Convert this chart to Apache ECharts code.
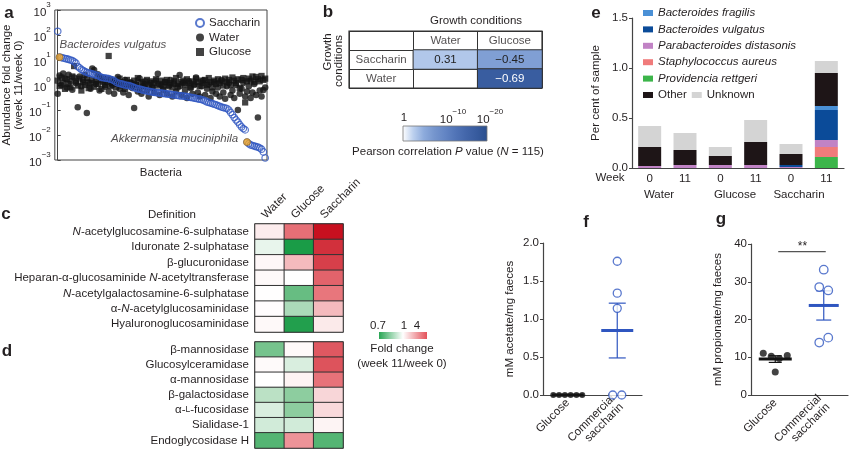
<!DOCTYPE html>
<html><head><meta charset="utf-8">
<script src="https://cdn.jsdelivr.net/npm/echarts@6/dist/echarts.min.js"></script>
<style>html,body{margin:0;padding:0;background:#fff}#c{width:850px;height:455px}</style>
</head><body><div id="c"></div>
<script>
// ---------------- DATA ----------------
// Panel a: abundance fold change (week 11 / week 0), bacteria ordered by saccharin response
const saccharin = [140, 13, 12.5, 12, 11.5, 11, 10.5, 10, 9.5, 8.5,
 7.5, 5.5, 4.8, 4.2, 3.8, 3.4, 3.2, 3.0, 2.9, 2.8,
 2.6, 2.5, 2.4, 2.2, 2.0, 1.95, 1.9, 1.85, 1.8, 1.7,
 1.6, 1.5, 1.3, 1.2, 1.15, 1.1, 1.05, 1.0, 0.97, 0.94,
 0.9, 0.85, 0.78, 0.74, 0.7, 0.68, 0.65, 0.62, 0.6, 0.58,
 0.56, 0.54, 0.52, 0.51, 0.5, 0.49, 0.48, 0.47, 0.46, 0.45,
 0.44, 0.43, 0.42, 0.41, 0.4, 0.39, 0.38, 0.37, 0.365, 0.36,
 0.35, 0.34, 0.33, 0.32, 0.31, 0.3, 0.29, 0.28, 0.27, 0.26,
 0.25, 0.23, 0.21, 0.2, 0.19, 0.18, 0.17, 0.16, 0.15, 0.14,
 0.13, 0.125, 0.12, 0.115, 0.1, 0.08, 0.065, 0.05, 0.04, 0.033,
 0.026, 0.021, 0.018, 0.016, 0.0052, 0.0045, 0.004, 0.0038, 0.0036, 0.0034,
 0.0033, 0.003, 0.0027, 0.0021, 0.0012];
const water = [0.45, 2.4, 1.0, 2.9, 1.8, 0.8, 2.6, 1.4, 0.65, 2.0,
 1.2, 0.13, 2.2, 0.9, 1.6, 2.5, 0.075, 1.3, 0.7, 4.6,
 4.0, 1.1, 2.7, 0.6, 1.5, 1.9, 0.85, 1.3, 0.55, 1.7,
 1.0, 0.45, 1.4, 2.1, 0.7, 1.2, 0.5, 1.6, 0.9, 0.4,
 1.3, 0.75, 0.12, 1.1, 0.55, 1.8, 0.45, 0.9, 1.4, 0.6,
 0.35, 1.2, 0.8, 0.5, 1.5, 2.8, 0.4, 1.0, 0.65, 1.3,
 0.45, 0.9, 1.6, 0.35, 1.1, 0.55, 0.8, 2.5, 0.4, 1.2,
 0.6, 0.3, 1.4, 0.75, 0.45, 1.0, 2.0, 0.5, 0.35, 0.9,
 1.5, 0.4, 0.7, 1.1, 0.3, 0.55, 1.3, 0.45, 0.8, 0.35,
 1.6, 0.5, 0.28, 0.9, 1.2, 0.4, 0.6, 0.3, 1.0, 0.1,
 0.45, 0.7, 1.2, 0.35, 0.55, 0.9, 0.3, 0.5, 1.1, 0.4,
 0.05, 0.6, 0.35, 0.63, 0.8];
const glucose = [1.5, 0.9, 2.0, 1.2, 0.7, 1.7, 1.1, 0.8, 2.2, 5.7,
 1.4, 0.95, 1.8, 0.6, 1.3, 1.0, 1.9, 0.75, 1.2, 1.6,
 0.85, 1.4, 1.1, 2.0, 0.7, 1.3, 1.0, 1.7, 14.5, 0.9,
 1.2, 1.5, 0.8, 1.1, 1.8, 0.95, 1.3, 0.7, 1.6, 1.0,
 1.2, 0.85, 1.5, 1.0, 1.9, 0.75, 1.3, 1.1, 0.9, 1.6,
 1.0, 1.4, 0.8, 1.2, 1.7, 0.95, 1.1, 1.5, 0.85, 1.3,
 1.6, 1.0, 1.2, 0.8, 1.4, 1.9, 1.1, 0.9, 1.3, 1.5,
 1.0, 1.7, 1.2, 0.85, 1.4, 1.1, 1.8, 1.3, 0.9, 1.5,
 1.2, 1.6, 1.0, 1.9, 1.3, 0.8, 1.5, 1.1, 1.7, 1.2,
 1.4, 0.95, 1.8, 1.3, 1.6, 1.0, 2.0, 1.5, 1.2, 1.7,
 0.75, 1.6, 1.9, 0.2, 1.4, 1.8, 1.5, 2.2, 1.3, 2.1,
 1.7, 1.4, 2.3, 1.6, 1.8];
const highlightIdx = [1, 104];
const highlightNames = ['Bacteroides vulgatus', 'Akkermansia muciniphila'];

// Panel b: Pearson correlations between growth conditions
const bColNames = ['Water', 'Glucose'];
const bRowNames = ['Saccharin', 'Water'];
const bCellRow = ['Saccharin', 'Saccharin', 'Water'];
const bCellCol = ['Water', 'Glucose', 'Glucose'];
const bR = [0.31, -0.45, -0.69];
const bNegLogP = [3.1, 6.4, 17];   // -log10(P), read from cell shading

// Panel e: per cent of sample
const eWeeks = ['0', '11', '0', '11', '0', '11'];
const eGroups = ['Water', 'Glucose', 'Saccharin'];
const eProvidencia = [0, 0, 0, 0, 0, 0.11];
const eStaph = [0, 0, 0, 0, 0, 0.10];
const eParabact = [0.02, 0.03, 0.03, 0.03, 0.01, 0.07];
const eBvulgatus = [0, 0, 0, 0, 0.02, 0.30];
const eBfragilis = [0, 0, 0, 0, 0, 0.04];
const eOther = [0.19, 0.15, 0.09, 0.23, 0.11, 0.33];
const eUnknown = [0.21, 0.17, 0.09, 0.22, 0.10, 0.12];

// Panels c, d: fold change (week 11/week 0), columns Water, Glucose, Saccharin
const cdConditions = ['Water', 'Glucose', 'Saccharin'];
const cRows = ['N-acetylglucosamine-6-sulphatase', 'Iduronate 2-sulphatase', 'β-glucuronidase',
  'Heparan-α-glucosaminide N-acetyltransferase', 'N-acetylgalactosamine-6-sulphatase',
  'α-N-acetylglucosaminidase', 'Hyaluronoglucosaminidase'];
const cFold = [[1.16, 3.1, 8], [0.97, 0.70, 5.8], [1.06, 1.7, 5.0], [1.05, 1.0, 3.5],
  [1.01, 0.80, 2.9], [1.02, 0.89, 1.7], [1.05, 0.71, 1.18]];
const dRows = ['β-mannosidase', 'Glucosylceramidase', 'α-mannosidase', 'β-galactosidase',
  'α-L-fucosidase', 'Sialidase-1', 'Endoglycosidase H'];
const dFold = [[0.82, 1.05, 3.9], [1.04, 0.95, 4.1], [1.0, 1.1, 3.0], [0.91, 0.85, 1.37],
  [0.95, 0.85, 1.34], [0.94, 0.94, 1.09], [0.775, 2.3, 0.775]];

// Panels f, g: SCFA
const fgCats = ['Glucose', 'Commercial\nsaccharin'];
const fGlucose = [0, 0, 0, 0, 0, 0];
const fSaccharin = [1.76, 1.34, 1.14, 0, 0];
const gGlucose = [11.05, 10.3, 9.65, 10.5, 6.1];
const gSaccharin = [33.2, 28.6, 27.7, 13.9, 15.2];
const gSignifLevel = 38;
const gSignif = '**';

// ---------------- STYLE / HELPERS ----------------
const TXT = '#231f20';
const FF = '"Liberation Sans", Arial, Helvetica, sans-serif';
const FS = 11.5;
const BLUE = '#2f56c0';
const bColors = ['#ffffff', '#bcd0ee', '#8dabdc', '#7595cd', '#6385c4', '#5174b7', '#4366aa', '#375b9e', '#2a4f8e'];
const fcColors = ['#1a9c47', '#8dcd9f', '#ffffff', '#e9787e', '#c8101f'];

function fmtR(r) { return (r < 0 ? '\u2212' : '') + Math.abs(r).toFixed(2); }
function foldT(f) { return f >= 1 ? Math.min(1, Math.log(f) / Math.log(8)) : Math.max(-1, -(1 - f) / 0.3); }
function richName(s) {
  return s.replace('α-L-', 'α-{sc|L}-').replace(/(^|[\s-])N-/g, '$1{i|N}-');
}
function supLabel(e) { return '{b|10}{s|' + (e < 0 ? '\u2212' + (-e) : e) + '}'; }
const supRich = {
  b: { fontSize: FS, fontFamily: FF, color: TXT, lineHeight: 18, verticalAlign: 'bottom' },
  s: { fontSize: 8, fontFamily: FF, color: TXT, lineHeight: 8, verticalAlign: 'top' }
};
function stats(arr) {
  const n = arr.length, m = arr.reduce((a, b) => a + b, 0) / n;
  const sd = Math.sqrt(arr.reduce((a, b) => a + (b - m) * (b - m), 0) / (n - 1));
  const se = sd / Math.sqrt(n);
  return [m, m - se, m + se];
}
function swarm(vals, pxPerUnit, thresh, spacing) {
  const n = vals.length, offs = new Array(n).fill(0);
  const order = vals.map((v, i) => i).sort((a, b) => vals[a] - vals[b]);
  const clusters = []; let cur = [order[0]];
  for (let k = 1; k < n; k++) {
    if ((vals[order[k]] - vals[order[k - 1]]) * pxPerUnit < thresh) cur.push(order[k]);
    else { clusters.push(cur); cur = [order[k]]; }
  }
  clusters.push(cur);
  clusters.forEach(cl => { cl.sort((a, b) => a - b); cl.forEach((idx, j) => offs[idx] = (j - (cl.length - 1) / 2) * spacing); });
  return offs;
}
function meanSem(color, halfW, capHalf) {
  return function (params, api) {
    const x = api.value(0);
    const m = api.coord([x, api.value(1)]);
    const lo = api.coord([x, api.value(2)]);
    const hi = api.coord([x, api.value(3)]);
    const ch = [{ type: 'line', shape: { x1: m[0] - halfW, y1: m[1], x2: m[0] + halfW, y2: m[1] }, style: { stroke: color, lineWidth: 3 } }];
    if (lo[1] - hi[1] > 0.5) {
      ch.push({ type: 'line', shape: { x1: lo[0], y1: lo[1], x2: hi[0], y2: hi[1] }, style: { stroke: color, lineWidth: 1.2 } });
      ch.push({ type: 'line', shape: { x1: lo[0] - capHalf, y1: lo[1], x2: lo[0] + capHalf, y2: lo[1] }, style: { stroke: color, lineWidth: 1.2 } });
      ch.push({ type: 'line', shape: { x1: hi[0] - capHalf, y1: hi[1], x2: hi[0] + capHalf, y2: hi[1] }, style: { stroke: color, lineWidth: 1.2 } });
    }
    return { type: 'group', children: ch };
  };
}
function T(x, y, text, st, el) {
  return Object.assign({ type: 'text', x: x, y: y, silent: true,
    style: Object.assign({ text: text, fill: TXT, fontSize: FS, fontFamily: FF, align: 'center', verticalAlign: 'middle' }, st || {}) }, el || {});
}
function L(x, y, t) { return T(x, y, t, { fontSize: 17, fontWeight: 'bold' }); }
function stopsOf(cols) { return cols.map((c, i) => ({ offset: i / (cols.length - 1), color: c })); }

// ---------------- SERIES ----------------
const series = [];
function add(s) { series.push(s); return series.length - 1; }
const txtLabel = { fontSize: FS, fontFamily: FF, color: TXT };

// a
add({ name: 'Water', type: 'scatter', xAxisIndex: 0, yAxisIndex: 0, clip: false, z: 2,
  data: water.map((v, i) => [i, v]), symbol: 'circle', symbolSize: 6.5, itemStyle: { color: '#141414' } });
add({ name: 'Glucose', type: 'scatter', xAxisIndex: 0, yAxisIndex: 0, clip: false, z: 2,
  data: glucose.map((v, i) => [i, v]), symbol: 'rect', symbolSize: 6.2, itemStyle: { color: '#141414' } });
add({ name: 'Saccharin', type: 'scatter', xAxisIndex: 0, yAxisIndex: 0, clip: false, z: 3,
  data: saccharin.map((v, i) => [i, v]), symbol: 'circle', symbolSize: 6.5,
  itemStyle: { color: 'rgba(255,255,255,0)', borderColor: BLUE, borderWidth: 1.2 } });
const hlLabels = [{ position: 'top', align: 'left', distance: 3 }, { position: 'left', distance: 5, offset: [0, -3] }];
add({ name: 'highlight', type: 'scatter', xAxisIndex: 0, yAxisIndex: 0, clip: false, z: 4,
  data: highlightIdx.map((i, k) => ({ value: [i, saccharin[i]], name: highlightNames[k], label: hlLabels[k] })),
  symbolSize: 7, itemStyle: { color: '#e8a025', borderColor: '#9a6a10', borderWidth: 0.6 },
  label: Object.assign({ show: true, formatter: '{b}', fontStyle: 'italic' }, txtLabel) });

// b
const bXCats = ['rowLabels'].concat(bColNames);
const bYCats = ['colHeader'].concat(bRowNames);
const bHeat = add({ name: 'bheat', type: 'heatmap', xAxisIndex: 1, yAxisIndex: 1,
  data: bR.map((r, i) => ({ value: [bXCats.indexOf(bCellCol[i]), bYCats.indexOf(bCellRow[i]), bNegLogP[i]],
    label: { color: bNegLogP[i] > 12 ? '#ffffff' : '#222222' } })),
  itemStyle: { borderColor: '#333', borderWidth: 1 },
  label: { show: true, fontSize: FS, fontFamily: FF, formatter: p => fmtR(bR[p.dataIndex]) } });
add({ name: 'btext', type: 'scatter', xAxisIndex: 1, yAxisIndex: 1, symbolSize: 0,
  data: bColNames.map(n => ({ value: [bXCats.indexOf(n), 0], name: n }))
    .concat(bRowNames.map(n => ({ value: [0, bYCats.indexOf(n)], name: n }))),
  label: Object.assign({ show: true, position: 'inside', formatter: '{b}' }, txtLabel) });

// e
const eStack = [
  ['Providencia rettgeri', eProvidencia, '#3cb54a'],
  ['Staphylococcus aureus', eStaph, '#f07b7b'],
  ['Parabacteroides distasonis', eParabact, '#c183c5'],
  ['Bacteroides vulgatus', eBvulgatus, '#0b4b99'],
  ['Bacteroides fragilis', eBfragilis, '#4a90d6'],
  ['Other', eOther, '#1e1517'],
  ['Unknown', eUnknown, '#d4d4d4']];
eStack.forEach(s => add({ name: s[0], type: 'bar', stack: 'e', xAxisIndex: 2, yAxisIndex: 2,
  data: s[1], barWidth: 23, itemStyle: { color: s[2] } }));

// c, d
function heatData(rows, fold) {
  const d = [];
  rows.forEach((r, ri) => fold[ri].forEach((f, ci) => d.push([ci, ri, foldT(f)])));
  return d;
}
const cHeat = add({ name: 'cheat', type: 'heatmap', xAxisIndex: 3, yAxisIndex: 3, data: heatData(cRows, cFold),
  itemStyle: { borderColor: '#333', borderWidth: 1 } });
const dHeat = add({ name: 'dheat', type: 'heatmap', xAxisIndex: 4, yAxisIndex: 4, data: heatData(dRows, dFold),
  itemStyle: { borderColor: '#333', borderWidth: 1 } });

// f
const fGO = swarm(fGlucose, 76, 7, 5.8), fSO = swarm(fSaccharin, 76, 7, 9);
add({ type: 'custom', xAxisIndex: 5, yAxisIndex: 5, z: 2, data: [[0].concat(stats(fGlucose))],
  encode: { x: 0, y: [1, 2, 3] }, renderItem: meanSem('#141414', 16, 7) });
add({ type: 'custom', xAxisIndex: 5, yAxisIndex: 5, z: 2, data: [[1].concat(stats(fSaccharin))],
  encode: { x: 0, y: [1, 2, 3] }, renderItem: meanSem(BLUE, 16, 8.5) });
add({ name: 'f-glucose', type: 'scatter', xAxisIndex: 5, yAxisIndex: 5, clip: false, z: 3,
  data: fGlucose.map((v, i) => ({ value: [0, v], symbolOffset: [fGO[i], 0] })), symbolSize: 6, itemStyle: { color: '#141414' } });
add({ name: 'f-saccharin', type: 'scatter', xAxisIndex: 5, yAxisIndex: 5, clip: false, z: 3,
  data: fSaccharin.map((v, i) => ({ value: [1, v], symbolOffset: [fSO[i], 0] })), symbolSize: 8,
  itemStyle: { color: '#ffffff', borderColor: BLUE, borderWidth: 1.3 } });

// g
const gGO = swarm(gGlucose, 3.8, 7, 8), gSO = swarm(gSaccharin, 3.8, 7, 9);
add({ type: 'custom', xAxisIndex: 6, yAxisIndex: 6, z: 2, data: [[0].concat(stats(gGlucose))],
  encode: { x: 0, y: [1, 2, 3] }, renderItem: meanSem('#141414', 16.5, 6.5) });
add({ type: 'custom', xAxisIndex: 6, yAxisIndex: 6, z: 2, data: [[1].concat(stats(gSaccharin))],
  encode: { x: 0, y: [1, 2, 3] }, renderItem: meanSem(BLUE, 15, 7.5) });
add({ name: 'g-glucose', type: 'scatter', xAxisIndex: 6, yAxisIndex: 6, clip: false, z: 3,
  data: gGlucose.map((v, i) => ({ value: [0, v], symbolOffset: [gGO[i], 0] })), symbolSize: 7, itemStyle: { color: '#141414' } });
add({ name: 'g-saccharin', type: 'scatter', xAxisIndex: 6, yAxisIndex: 6, clip: false, z: 3,
  data: gSaccharin.map((v, i) => ({ value: [1, v], symbolOffset: [gSO[i], 0] })), symbolSize: 8.5,
  itemStyle: { color: '#ffffff', borderColor: BLUE, borderWidth: 1.3 } });
add({ type: 'custom', xAxisIndex: 6, yAxisIndex: 6, z: 3, data: [[0, 1, gSignifLevel]], encode: { x: [0, 1], y: 2 },
  renderItem: (p, api) => {
    const a = api.coord([api.value(0), api.value(2)]), b = api.coord([api.value(1), api.value(2)]);
    return { type: 'group', children: [
      { type: 'line', shape: { x1: a[0] + 3, y1: a[1], x2: b[0] + 2, y2: b[1] }, style: { stroke: '#555', lineWidth: 1.2 } },
      { type: 'text', style: { text: gSignif, x: (a[0] + b[0]) / 2 + 3, y: a[1] + 1, align: 'center', verticalAlign: 'bottom', fontSize: 12, fontFamily: FF, fill: TXT } }] };
  } });

// ---------------- AXES ----------------
const none = { axisLine: { show: false }, axisTick: { show: false }, axisLabel: { show: false }, splitLine: { show: false } };
const axLine = { show: true, lineStyle: { color: '#444', width: 1.2 } };
const nameStyle = { fontSize: FS, fontFamily: FF, color: TXT, lineHeight: 12 };
function valY(grid, min, max, interval, name, gap, fmt) {
  return { gridIndex: grid, type: 'value', min: min, max: max, interval: interval,
    axisLine: axLine, axisTick: { show: true, length: 3, lineStyle: { color: '#444' } }, splitLine: { show: false },
    axisLabel: { fontSize: FS, color: TXT, margin: 4, formatter: fmt },
    name: name, nameLocation: 'middle', nameGap: gap, nameRotate: 90, nameTextStyle: nameStyle };
}
const xAxis = [
  Object.assign({ gridIndex: 0, type: 'value', min: -1.6, max: 115, name: 'Bacteria', nameLocation: 'middle', nameGap: 7, nameTextStyle: nameStyle }, none),
  Object.assign({ gridIndex: 1, type: 'category', data: bXCats }, none, { splitLine: { show: true, interval: 0, lineStyle: { color: '#333', width: 1 } } }),
  { gridIndex: 2, type: 'category', data: eWeeks, axisLine: axLine, axisTick: { alignWithLabel: true, length: 3, lineStyle: { color: '#444' } },
    axisLabel: { interval: 0, fontSize: FS, color: TXT, margin: 5 } },
  Object.assign({ gridIndex: 3, type: 'category', data: cdConditions, position: 'top' }, none),
  Object.assign({ gridIndex: 4, type: 'category', data: cdConditions }, none),
  { gridIndex: 5, type: 'category', data: fgCats, axisLine: axLine, axisTick: { alignWithLabel: true, length: 3, lineStyle: { color: '#444' } },
    axisLabel: { interval: 0, rotate: 45, fontSize: FS, color: TXT, margin: 6, lineHeight: 12 } },
  { gridIndex: 6, type: 'category', data: fgCats, axisLine: axLine, axisTick: { alignWithLabel: true, length: 3, lineStyle: { color: '#444' } },
    axisLabel: { interval: 0, rotate: 45, fontSize: FS, color: TXT, margin: 6, lineHeight: 12 } }
];
const yLabelRich = { i: { fontStyle: 'italic', fontSize: FS, fontFamily: FF, color: TXT }, sc: { fontSize: 8.5, fontFamily: FF, color: TXT } };
const yAxis = [
  { gridIndex: 0, type: 'log', logBase: 10, min: 0.001, max: 1000, splitNumber: 6,
    axisLine: { show: true, lineStyle: { color: '#444' } }, axisTick: { show: true, inside: true, length: 3, lineStyle: { color: '#444' } },
    splitLine: { show: false }, minorTick: { show: false },
    axisLabel: { margin: 4, formatter: v => supLabel(Math.round(Math.log10(v))), rich: supRich },
    name: 'Abundance fold change\n(week 11/week 0)', nameLocation: 'middle', nameGap: 28, nameRotate: 90, nameTextStyle: nameStyle },
  Object.assign({ gridIndex: 1, type: 'category', data: bYCats, inverse: true }, none, { splitLine: { show: true, interval: 0, lineStyle: { color: '#333', width: 1 } } }),
  valY(2, 0, 1.5, 0.5, 'Per cent of sample', 30, v => v.toFixed(1)),
  Object.assign({ gridIndex: 3, type: 'category', data: cRows, inverse: true }, none,
    { axisLabel: { show: true, interval: 0, fontSize: FS, color: TXT, margin: 6, formatter: richName, rich: yLabelRich } }),
  Object.assign({ gridIndex: 4, type: 'category', data: dRows, inverse: true }, none,
    { axisLabel: { show: true, interval: 0, fontSize: FS, color: TXT, margin: 6, formatter: richName, rich: yLabelRich } }),
  valY(5, 0, 2, 0.5, 'mM acetate/mg faeces', 27, v => v.toFixed(1)),
  valY(6, 0, 40, 10, 'mM propionate/mg faeces', 27, v => String(v))
];

// ---------------- GRAPHIC TEXT ----------------
const cHeaderText = cdConditions.map((n, k) =>
  T(268 + 29.3 * k, 221, n, { align: 'left', verticalAlign: 'bottom' }, { rotation: Math.PI / 4 }));
const graphic = [
  L(9, 13, 'a'), L(328, 12, 'b'), L(596, 13, 'e'), L(6, 214, 'c'), L(7, 351, 'd'), L(586, 222, 'f'), L(721, 219, 'g'),
  // b
  T(476, 21, 'Growth conditions'),
  T(328, 52, 'Growth', {}, { rotation: Math.PI / 2 }),
  T(339, 61, 'conditions', {}, { rotation: Math.PI / 2 }),
  { type: 'rect', shape: { x: 403, y: 126, width: 84, height: 15 }, silent: true,
    style: { fill: new echarts.graphic.LinearGradient(0, 0, 1, 0, stopsOf(bColors)), stroke: '#777', lineWidth: 0.8 } },
  T(404, 118, '1'),
  T(453, 117, supLabel(-10), { rich: supRich }),
  T(490, 117, supLabel(-20), { rich: supRich }),
  T(448, 152, '{n|Pearson correlation }{i|P}{n| value (}{i|N}{n| = 115)}', { rich: {
    n: { fontSize: FS, fontFamily: FF, color: TXT }, i: { fontSize: FS, fontFamily: FF, fontStyle: 'italic', color: TXT } } }),
  // c/d
  T(172, 215, 'Definition'),
  { type: 'rect', shape: { x: 379, y: 332, width: 48, height: 7 }, silent: true,
    style: { fill: new echarts.graphic.LinearGradient(0, 0, 1, 0, [{ offset: 0, color: '#2aa655' }, { offset: 0.5, color: '#ffffff' }, { offset: 1, color: '#e4525a' }]) } },
  T(378, 326, '0.7'), T(404, 326, '1'), T(417, 326, '4'),
  T(402, 349, 'Fold change'), T(402, 364, '(week 11/week 0)'),
  // e
  T(610, 178, 'Week'),
  T(659, 195, eGroups[0]), T(735, 195, eGroups[1]), T(799, 195, eGroups[2])
].concat(cHeaderText);

const option = {
  animation: false,
  textStyle: { fontFamily: FF, color: TXT },
  grid: [
    { left: 53, top: 10, width: 214, height: 150, show: true, borderColor: '#444', borderWidth: 1 },
    { left: 349, top: 31, width: 193, height: 57, show: true, borderColor: '#333', borderWidth: 1.2 },
    { left: 632, top: 18, width: 212, height: 150 },
    { left: 255, top: 224, width: 88, height: 108, show: true, borderColor: '#333', borderWidth: 1.2 },
    { left: 255, top: 342, width: 88, height: 106, show: true, borderColor: '#333', borderWidth: 1.2 },
    { left: 543, top: 243, width: 99, height: 152 },
    { left: 751, top: 244, width: 97, height: 152 }
  ],
  xAxis: xAxis, yAxis: yAxis,
  legend: [
    { data: ['Saccharin', 'Water', 'Glucose'], orient: 'vertical', left: 190, top: 12, itemWidth: 8, itemHeight: 8, itemGap: 2.5,
      selectedMode: false, textStyle: { fontSize: FS, color: TXT, lineHeight: 12 } },
    { data: ['Bacteroides fragilis', 'Bacteroides vulgatus', 'Parabacteroides distasonis', 'Staphylococcus aureus', 'Providencia rettgeri'],
      orient: 'vertical', left: 638, top: 2, icon: 'rect', itemWidth: 10, itemHeight: 6, itemGap: 4.4, selectedMode: false,
      textStyle: { fontSize: FS, fontStyle: 'italic', color: TXT, lineHeight: 12 } },
    { data: ['Other', 'Unknown'], orient: 'horizontal', left: 638, top: 84, icon: 'rect', itemWidth: 10, itemHeight: 6, itemGap: 5,
      selectedMode: false, textStyle: { fontSize: FS, color: TXT, lineHeight: 12 } }
  ],
  visualMap: [
    { type: 'continuous', show: false, seriesIndex: [bHeat], dimension: 2, min: 0, max: 20, inRange: { color: bColors } },
    { type: 'continuous', show: false, seriesIndex: [cHeat, dHeat], dimension: 2, min: -1, max: 1, inRange: { color: fcColors } }
  ],
  graphic: graphic,
  series: series
};
const chart = echarts.init(document.getElementById('c'), null, { renderer: 'canvas' });
chart.setOption(option);
</script></body></html>
